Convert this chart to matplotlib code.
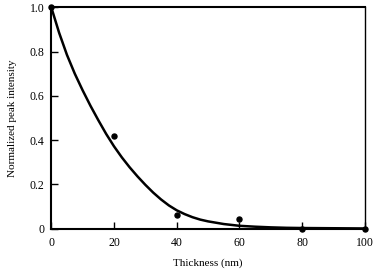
import matplotlib.pyplot as plt

plt.rcParams['font.family'] = 'Liberation Serif'

# measured points
thickness = [0, 20, 40, 60, 80, 100]
intensity = [1.0, 0.418, 0.06, 0.045, 0.0, 0.0]

# fitted decay curve
fit_x = [0, 2.5, 5, 7.5, 10, 12.5, 15, 17.5, 20, 22.5, 25, 27.5, 30, 32.5, 35, 37.5,
         40, 42.5, 45, 47.5, 50, 55, 60, 65, 70, 75, 80, 90, 100]
fit_y = [1.0, 0.885, 0.785, 0.70, 0.625, 0.555, 0.49, 0.428, 0.372, 0.322, 0.277,
         0.236, 0.198, 0.163, 0.132, 0.105, 0.083, 0.066, 0.052, 0.041, 0.033,
         0.021, 0.013, 0.009, 0.006, 0.004, 0.003, 0.002, 0.001]

fig = plt.figure(figsize=(3.77, 2.70), dpi=100)
ax = fig.add_axes([0.136, 0.153, 0.832, 0.820])

ax.plot(fit_x, fit_y, color='black', lw=1.8, clip_on=False, solid_joinstyle='round')
ax.plot(thickness, intensity, 'o', color='black', ms=3.6, clip_on=False)

ax.set_xlim(0, 100)
ax.set_ylim(0, 1.0)
ax.set_xticks([0, 20, 40, 60, 80, 100])
ax.set_yticks([0, 0.2, 0.4, 0.6, 0.8, 1.0])
ax.set_yticklabels(['0', '0.2', '0.4', '0.6', '0.8', '1.0'])
ax.tick_params(direction='in', length=5, width=1, labelsize=8.5)
ax.tick_params(axis='x', pad=6)
ax.tick_params(axis='y', pad=5)
for s in ['left', 'bottom', 'top']:
    ax.spines[s].set_linewidth(1.5)
ax.spines['right'].set_linewidth(1.0)

ax.set_xlabel('Thickness (nm)', fontsize=8, labelpad=7)
ax.set_ylabel('Normalized peak intensity', fontsize=8, labelpad=9)

fig.savefig('out.png', dpi=100)
